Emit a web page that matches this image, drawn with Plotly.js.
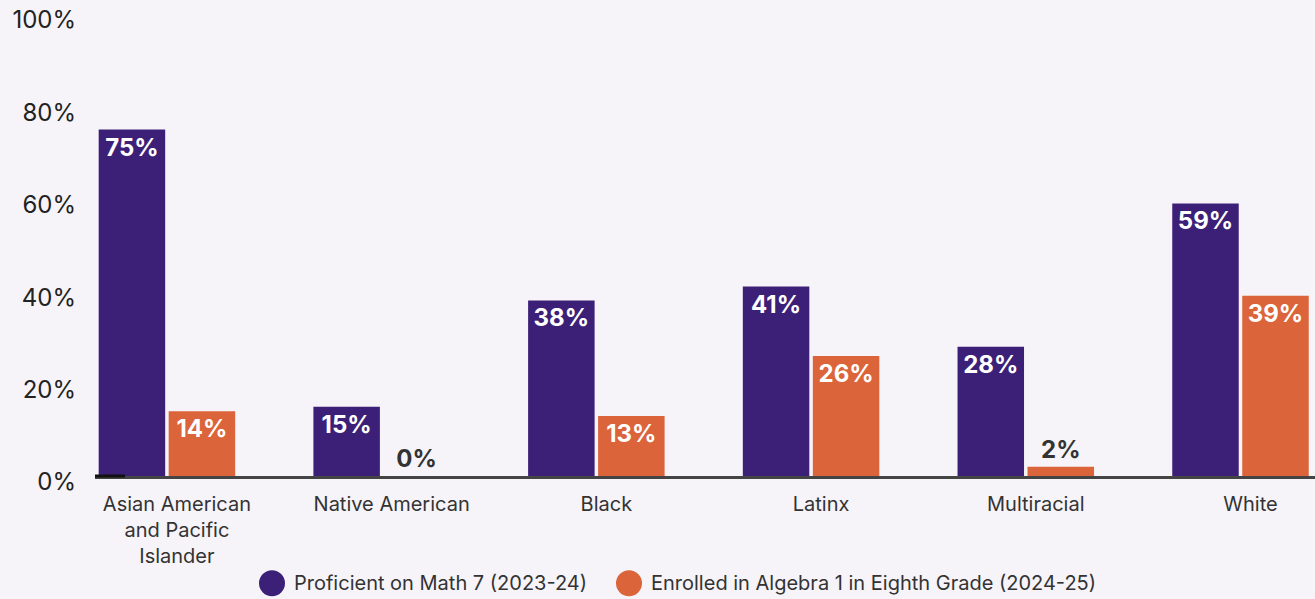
<!DOCTYPE html>
<html>
<head>
<meta charset="utf-8">
<script src="https://cdn.plot.ly/plotly-3.0.1.min.js"></script>
<style>
  html, body { margin: 0; padding: 0; background: #F6F4F9; }
  #chart { width: 1315px; height: 599px; }
</style>
</head>
<body>
<div id="chart"></div>
<script>
const categories = ["Asian American<br>and Pacific<br>Islander", "Native American", "Black", "Latinx", "Multiracial", "White"];
const proficientMath7 = [75, 15, 38, 41, 28, 59];
const enrolledAlgebra1 = [14, 0, 13, 26, 2, 39];
const seriesNames = ["Proficient on Math 7 (2023-24)", "Enrolled in Algebra 1 in Eighth Grade (2024-25)"];
const seriesColors = ["#3C2077", "#DB643A"];
const yTickVals = [0, 20, 40, 60, 80, 100];
const yTickText = ["0%", "20%", "40%", "60%", "80%", "100%"];

function labelPositions(vals) { return vals.map(v => v < 8 ? "outside" : "inside"); }
function labelColors(vals) { return vals.map(v => v < 8 ? "#333333" : "#FFFFFF"); }

const FONT = "Inter, 'Open Sans', sans-serif";

const traces = [proficientMath7, enrolledAlgebra1].map((vals, i) => ({
  type: "bar",
  name: seriesNames[i],
  x: categories,
  y: vals,
  marker: { color: seriesColors[i] },
  text: vals.map(v => v + "%"),
  textposition: labelPositions(vals),
  insidetextanchor: "end",
  constraintext: "none",
  cliponaxis: false,
  textfont: { family: FONT, size: 24, color: labelColors(vals), weight: 700 },
  showlegend: false,
  hoverinfo: "skip"
}));

const legendY = -0.232;
const shapes = [];
const annotations = [];
const legendCircleX = [272, 629];
seriesNames.forEach((n, i) => {
  const cx = (legendCircleX[i] - 95) / 1220;
  shapes.push({
    type: "circle", xref: "paper", yref: "paper",
    x0: cx - 13 / 1220, x1: cx + 13 / 1220,
    y0: legendY - 13 / 462, y1: legendY + 13 / 462,
    fillcolor: seriesColors[i], line: { width: 0 }
  });
  annotations.push({
    xref: "paper", yref: "paper", x: cx + 20 / 1220, y: legendY,
    xanchor: "left", yanchor: "middle", showarrow: false,
    text: n, font: { family: FONT, size: 20, color: "#333333" }
  });
});
shapes.push({
  type: "line", xref: "paper", yref: "paper", x0: 0, x1: 30 / 1220, y0: 0, y1: 0,
  line: { color: "#111111", width: 3 }
});

const layout = {
  width: 1315, height: 599,
  paper_bgcolor: "#F6F4F9", plot_bgcolor: "#F6F4F9",
  margin: { l: 95, r: 0, t: 14, b: 123 },
  barmode: "group",
  bargap: 0.348,
  bargroupgap: 0.05,
  font: { family: FONT, color: "#333333" },
  xaxis: {
    type: "category",
    range: [-0.335, 5.347],
    showline: true, linecolor: "#444444", linewidth: 3,
    ticks: "", showgrid: false, zeroline: false,
    ticklabelstandoff: 8,
    ticklabelshift: 10,
    tickfont: { family: FONT, size: 20, color: "#333333" },
    automargin: false
  },
  yaxis: {
    range: [0, 100],
    tickvals: yTickVals, ticktext: yTickText,
    showgrid: false, zeroline: false, showline: false, ticks: "",
    ticklabelstandoff: 18,
    ticklabelshift: 6,
    tickfont: { family: FONT, size: 24, color: "#222222" },
    automargin: false
  },
  shapes: shapes,
  annotations: annotations,
  showlegend: false
};

Plotly.newPlot("chart", traces, layout, { displayModeBar: false, staticPlot: true });
</script>
</body>
</html>
